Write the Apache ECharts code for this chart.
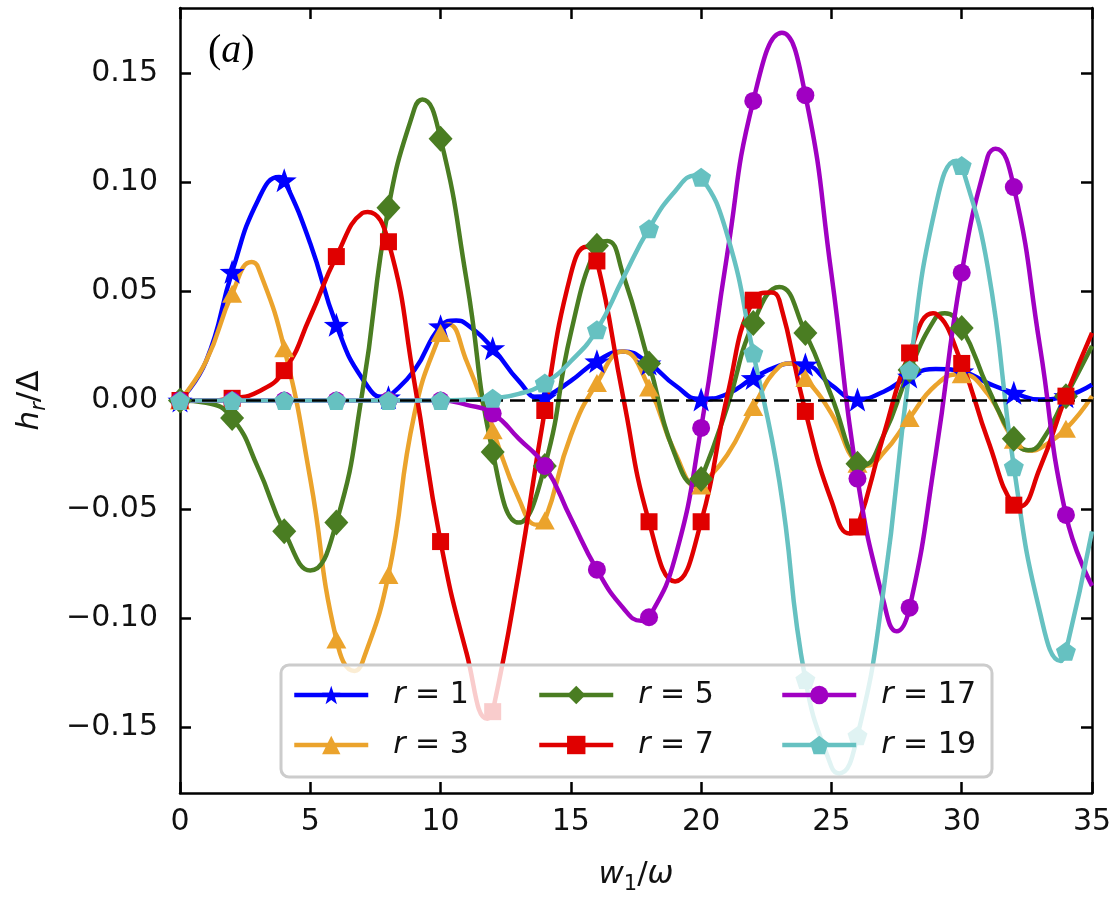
<!DOCTYPE html>
<html>
<head>
<meta charset="utf-8">
<script src="https://cdn.jsdelivr.net/npm/echarts@6/dist/echarts.min.js"></script>
<style>html,body{margin:0;padding:0;background:#fff;}#c{width:1117px;height:900px;}</style>
</head>
<body>
<div id="c"></div>
<script>
// ---- data ----
const seriesNames = ['r = 1', 'r = 3', 'r = 5', 'r = 7', 'r = 17', 'r = 19'];
const xTicks = [0, 5, 10, 15, 20, 25, 30, 35];
const yTicks = [-0.15, -0.10, -0.05, 0.00, 0.05, 0.10, 0.15];
const zeroLine = [[0, 0], [35, 0]];

const r1 = [[0,0],[1,0.018],[2,0.059],[3,0.092],[3.8,0.1025],[4,0.101],[5,0.072],[6,0.0347],[7,0.010],[7.9,0.001],[8,0.0015],[9,0.014],[10,0.034],[10.6,0.0367],[11,0.035],[12,0.024],[13,0.009],[13.8,0.001],[14,0.0015],[15,0.009],[16,0.018],[17,0.0225],[18,0.017],[19,0.007],[20,0.0005],[21,0.003],[22,0.0103],[23,0.016],[23.5,0.017],[24,0.0165],[25,0.007],[26,0.0005],[27,0.004],[28,0.011],[29,0.0145],[30,0.0134],[31,0.008],[32,0.0035],[33,0.0005],[34,0.002],[35,0.0073]];
const r3 = [[0,0],[1,0.018],[2,0.049],[2.75,0.0635],[3,0.061],[4,0.024],[5,-0.036],[6,-0.1096],[6.7,-0.124],[7,-0.120],[8,-0.080],[9,-0.006],[10,0.031],[10.3,0.035],[11,0.018],[12,-0.0137],[13,-0.045],[13.7,-0.057],[14,-0.055],[15,-0.016],[16,0.008],[17,0.0225],[18,0.006],[19,-0.024],[19.9,-0.040],[20,-0.039],[21,-0.025],[22,-0.003],[23,0.0155],[23.4,0.017],[24,0.0103],[25,-0.006],[26,-0.029],[26.3,-0.030],[27,-0.024],[28,-0.008],[29,0.007],[29.9,0.012],[30,0.012],[31,0.003],[32,-0.018],[32.7,-0.023],[33,-0.022],[34,-0.013],[35,0.002]];
const r5 = [[0,0],[1,-0.001],[2,-0.008],[3,-0.031],[4,-0.060],[5,-0.078],[6,-0.056],[7,0.004],[8,0.0884],[9,0.134],[9.3,0.138],[10,0.120],[11,0.055],[12,-0.0236],[13,-0.056],[14,-0.030],[15,0.031],[16,0.071],[16.4,0.0732],[17,0.058],[18,0.017],[19,-0.025],[19.8,-0.0388],[20,-0.036],[21,-0.003],[22,0.0355],[23,0.052],[24,0.031],[25,0.002],[26,-0.029],[26.2,-0.0297],[27,-0.016],[28,0.014],[29,0.038],[29.35,0.040],[30,0.0332],[31,0.006],[32,-0.0175],[32.55,-0.0228],[33,-0.020],[34,0.002],[35,0.025]];
const r7 = [[0,0],[1,0],[2,0.001],[3,0.004],[4,0.0137],[5,0.0385],[6,0.066],[7,0.086],[7.2,0.0865],[8,0.0728],[9,0.008],[10,-0.0647],[11,-0.116],[11.8,-0.146],[12,-0.1427],[13,-0.079],[14,-0.0046],[15,0.058],[15.6,0.0705],[16,0.064],[17,0.002],[18,-0.0556],[19,-0.083],[20,-0.0556],[21,0.002],[22,0.046],[22.7,0.0495],[23,0.046],[24,-0.005],[25,-0.046],[25.7,-0.061],[26,-0.058],[27,-0.016],[28,0.0218],[28.9,0.040],[29,0.0398],[30,0.017],[31,-0.018],[32,-0.048],[32.2,-0.0487],[33,-0.031],[34,0.002],[35,0.031]];
const r17 = [[0,0],[1,0],[2,0],[3,0],[4,0],[5,0],[6,0],[7,0],[8,0],[9,0],[10,0],[11,-0.002],[12,-0.006],[13,-0.0175],[14,-0.030],[15,-0.054],[16,-0.0776],[17,-0.095],[17.7,-0.101],[18,-0.0994],[19,-0.072],[20,-0.0126],[21,0.067],[22,0.1374],[23.1,0.1686],[24,0.140],[25,0.058],[26,-0.0358],[27,-0.092],[27.5,-0.1058],[28,-0.095],[29,-0.025],[30,0.0586],[31,0.112],[31.3,0.1154],[32,0.0979],[33,0.025],[34,-0.0525],[35,-0.085]];
const r19 = [[0,0],[1,0],[2,0],[3,0],[4,0],[5,0],[6,0],[7,0],[8,0],[9,0],[10,0],[11,0.0003],[12,0.001],[13,0.003],[14,0.008],[15,0.018],[16,0.0324],[17,0.056],[18,0.0788],[19,0.096],[19.8,0.1032],[20,0.1024],[21,0.076],[22,0.0218],[23,-0.037],[24,-0.128],[25,-0.168],[25.3,-0.171],[26,-0.1537],[27,-0.087],[28,0.014],[29,0.089],[29.8,0.110],[30,0.1078],[31,0.061],[32,-0.0304],[33,-0.097],[33.8,-0.1195],[34,-0.115],[35,-0.060]];

const allData = [r1, r3, r5, r7, r17, r19];

// ---- styles ----
const colors = ['#0000ff', '#eba32c', '#4a7d22', '#e00000', '#a000c2', '#66c1c1'];
const starPath = 'path://M0,-10 L2.35,-3.24 L9.51,-3.09 L3.8,1.24 L5.88,8.09 L0,4 L-5.88,8.09 L-3.8,1.24 L-9.51,-3.09 L-2.35,-3.24 Z';
const pentPath = 'path://M0,-10 L9.51,-3.09 L5.88,8.09 L-5.88,8.09 L-9.51,-3.09 Z';
const symbols = [starPath, 'triangle', 'diamond', 'rect', 'circle', pentPath];
const symbolSizes = [[25,24], [20,18], [24,26], [17,17], [18,18], [20,19]];
const FONT = 'DejaVu Sans';

function toItems(arr) {
  return arr.map(p => {
    const isMarker = Number.isInteger(p[0]) && p[0] % 2 === 0;
    return isMarker ? { value: p } : { value: p, symbol: 'none' };
  });
}

const series = allData.map((d, i) => ({
  name: seriesNames[i],
  type: 'line',
  data: toItems(d),
  smooth: 0.5,
  showAllSymbol: true,
  symbol: symbols[i],
  symbolSize: symbolSizes[i],
  lineStyle: { color: colors[i], width: 4.5 },
  itemStyle: { color: colors[i] },
  color: colors[i],
  z: 2,
  silent: true,
  animation: false
}));
series.push({
  name: 'zero',
  type: 'line',
  data: zeroLine,
  symbol: 'none',
  lineStyle: { color: '#000', width: 2.5, type: [15, 7] },
  z: 2,
  silent: true,
  animation: false
});

const labelFmt = v => (v < 0 ? '\u2212' : '') + Math.abs(v).toFixed(2);
const legendFmt = name => '{s|}{i|r} = ' + name.split('=')[1].trim();
const legendRich = {
  s: { width: 20 },
  i: { fontFamily: FONT, fontStyle: 'italic', fontSize: 30, color: '#111', lineHeight: 30 }
};
function makeLegend(left, names) {
  return {
    data: names,
    orient: 'vertical',
    left: left,
    top: 680,
    padding: 0,
    itemWidth: 74,
    itemHeight: 23,
    itemGap: 20,
    selectedMode: false,
    formatter: legendFmt,
    lineStyle: { width: 4.5 },
    textStyle: { fontFamily: FONT, fontSize: 30, color: '#111', lineHeight: 30, rich: legendRich }
  };
}

const chart = echarts.init(document.getElementById('c'), null, { renderer: 'canvas' });
chart.setOption({
  animation: false,
  backgroundColor: '#fff',
  title: {
    text: '{p|(}{i|a}{p|)}',
    left: 203,
    top: 26,
    textStyle: {
      fontWeight: 'normal',
      rich: {
        p: { fontFamily: 'Liberation Serif', fontWeight: 'normal', fontSize: 40, color: '#000' },
        i: { fontFamily: 'Liberation Serif', fontWeight: 'normal', fontStyle: 'italic', fontSize: 40, color: '#000' }
      }
    }
  },
  grid: { left: 180, right: 25, top: 8, bottom: 105, containLabel: false },
  legend: [
    makeLegend(292, [seriesNames[0], seriesNames[1]]),
    makeLegend(537, [seriesNames[2], seriesNames[3]]),
    makeLegend(780, [seriesNames[4], seriesNames[5]])
  ],
  graphic: [{
    type: 'rect',
    z: 3,
    silent: true,
    shape: { x: 281, y: 665, width: 711, height: 112, r: 8 },
    style: { fill: 'rgba(255,255,255,0.8)', stroke: '#cccccc', lineWidth: 3 }
  }],
  xAxis: [{
    type: 'value', min: 0, max: 35, interval: 5,
    name: '{i|w}{sub|1}{n|/}{i|ω}',
    nameLocation: 'middle', nameGap: 62,
    nameTextStyle: {
      rich: {
        i: { fontFamily: FONT, fontStyle: 'italic', fontSize: 31, color: '#111', lineHeight: 40 },
        n: { fontFamily: FONT, fontSize: 31, color: '#111', lineHeight: 40 },
        sub: { fontFamily: FONT, fontSize: 21, color: '#111', lineHeight: 21, verticalAlign: 'bottom' }
      }
    },
    axisLine: { onZero: false, lineStyle: { color: '#000', width: 2.5 } },
    axisTick: { inside: true, length: 11, lineStyle: { color: '#000', width: 2.5 } },
    axisLabel: { fontFamily: FONT, fontSize: 30, color: '#111', margin: 14, formatter: v => String(v) },
    splitLine: { show: false }
  }, {
    type: 'value', min: 0, max: 35, interval: 5, position: 'top',
    axisLine: { onZero: false, lineStyle: { color: '#000', width: 2.5 } },
    axisTick: { inside: true, length: 11, lineStyle: { color: '#000', width: 2.5 } },
    axisLabel: { show: false },
    splitLine: { show: false }
  }],
  yAxis: [{
    type: 'value', min: -0.18, max: 0.18,
    name: '{i|h}{sub|r}{n|/Δ}',
    nameLocation: 'middle', nameGap: 130, nameRotate: 90,
    nameTextStyle: {
      rich: {
        i: { fontFamily: FONT, fontStyle: 'italic', fontSize: 31, color: '#111', lineHeight: 40 },
        n: { fontFamily: FONT, fontSize: 31, color: '#111', lineHeight: 40 },
        sub: { fontFamily: FONT, fontStyle: 'italic', fontSize: 21, color: '#111', lineHeight: 21, verticalAlign: 'bottom' }
      }
    },
    axisLine: { onZero: false, lineStyle: { color: '#000', width: 2.5 } },
    axisTick: { inside: true, length: 11, customValues: yTicks, lineStyle: { color: '#000', width: 2.5 } },
    axisLabel: { fontFamily: FONT, fontSize: 30, color: '#111', margin: 22, customValues: yTicks, formatter: labelFmt },
    splitLine: { show: false }
  }, {
    type: 'value', min: -0.18, max: 0.18, position: 'right',
    axisLine: { onZero: false, lineStyle: { color: '#000', width: 2.5 } },
    axisTick: { inside: true, length: 11, customValues: yTicks, lineStyle: { color: '#000', width: 2.5 } },
    axisLabel: { show: false, customValues: yTicks },
    splitLine: { show: false }
  }],
  series: series
});
</script>
</body>
</html>
